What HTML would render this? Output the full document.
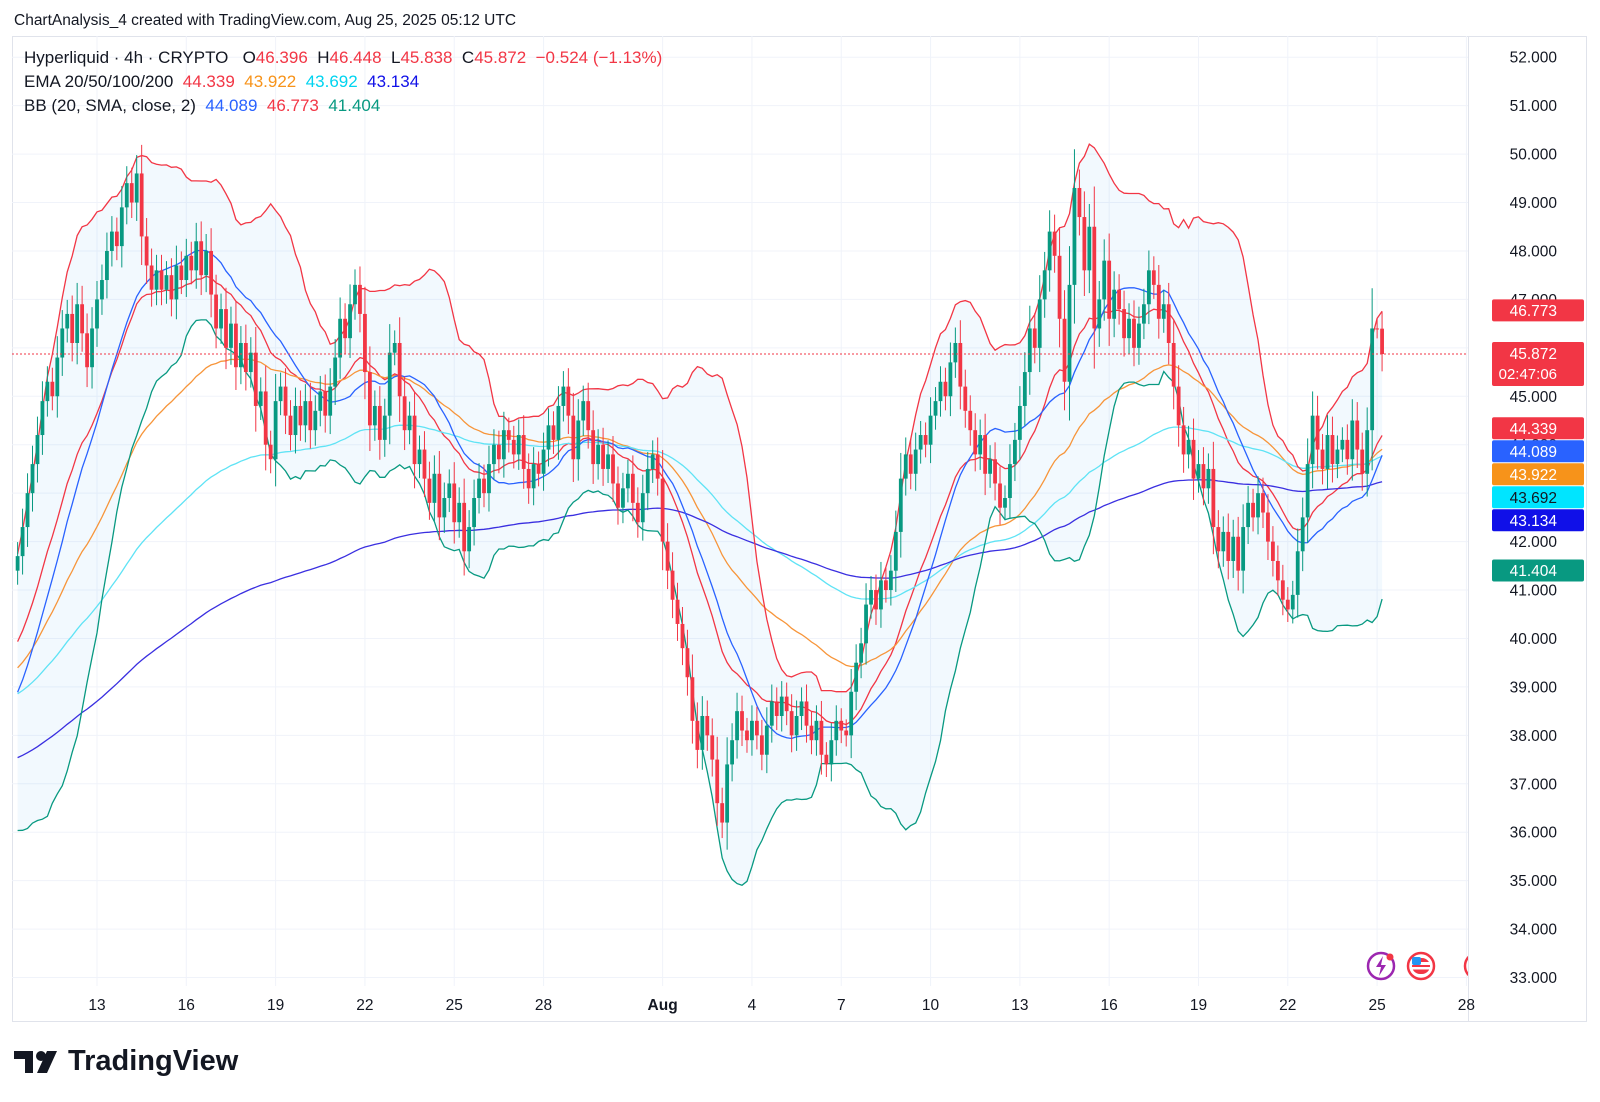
<!DOCTYPE html>
<html><head><meta charset="utf-8">
<style>
body{margin:0;background:#fff;width:1600px;height:1102px;overflow:hidden;font-family:"Liberation Sans",sans-serif;}
#hdr{position:absolute;left:14px;top:12px;font-size:15.5px;color:#131722;}
#logo{position:absolute;left:14px;top:1045px;font-size:29px;font-weight:bold;color:#131722;display:flex;align-items:center;gap:6px}
svg{position:absolute;left:0;top:0}
</style></head><body>
<div id="hdr">ChartAnalysis_4 created with TradingView.com, Aug 25, 2025 05:12 UTC</div>
<div id="logo"><svg width="48" height="26" style="position:static"><path d="M0 2h19v22h-8V10H0z M23 24l10-22h10L33 24z" fill="#131722"/><circle cx="27" cy="7" r="5" fill="#131722"/></svg><span>TradingView</span></div>
<svg id="c" width="1600" height="1102"></svg>
<script>
const priorCloses=[37.2,37.0,36.8,37.3,37.6,37.9,37.7,38.2,38.6,38.4,38.9,39.3,39.1,39.6,40.1,40.4,40.0,40.8,41.2];
const closes=[41.7,42.3,43.0,43.6,
44.2,44.9,45.3,45.0,45.8,46.4, 46.7,46.1,46.9,46.3,45.6,46.4, 47.0,47.4,48.0,48.4,48.1,48.9,
49.4,49.0,49.6,48.3,47.7,47.2, 47.6,47.2,47.5,47.0,47.7,47.4, 47.9,47.6,48.2,47.5,48.0,47.1,
46.4,46.8,46.0,46.5,45.6,46.1, 45.5,45.9,44.8,45.1,44.0,43.7, 44.9,45.2,44.6,44.2,44.8,44.4,
44.9,44.3,44.7,45.1,44.6,45.2, 45.8,46.6,46.2,46.9,47.3,46.7, 45.5,44.4,44.8,44.1,44.6,45.9,
46.1,45.0,44.3,44.6,43.6,43.9, 43.3,42.8,43.4,42.5,42.9,43.2, 42.4,42.8,41.8,42.3,42.9,43.3,
43.0,43.6,44.0,43.7,44.3,44.1, 43.8,44.2,43.5,43.1,43.6,43.4, 43.9,44.4,44.1,44.8,45.2,44.6,
43.7,44.5,44.9,44.3,43.6,44.0, 43.5,43.8,43.2,42.7,43.1,43.4, 42.8,42.4,43.0,43.5,43.8,43.3,
42.0,41.4,40.8,40.3,39.8,39.2, 38.3,37.7,38.4,38.0,37.5,36.6, 36.2,37.4,37.9,38.5,38.1,37.9,
38.3,38.0,37.6,38.2,38.7,38.4, 38.8,38.5,38.0,38.4,38.7,38.2, 37.9,38.3,37.6,37.4,37.9,38.3,
38.1,38.0,38.9,39.5,39.9,40.7, 41.0,40.6,41.2,41.0,41.4,42.2, 43.3,43.8,43.4,43.9,44.2,44.0,
44.6,44.9,45.3,45.0,45.7,46.1, 45.2,44.7,44.3,43.8,44.2,43.4, 43.7,43.2,42.7,42.9,43.6,44.1,
44.8,45.5,46.4,46.0,47.0,47.6, 48.4,47.9,46.6,45.3,47.3,49.3, 48.7,47.6,48.5,46.4,47.0,47.8,
46.6,47.2,46.8,46.2,46.6,46.0, 46.5,46.9,47.6,47.3,46.6,46.9, 46.1,45.2,44.4,43.8,44.1,43.3,
43.6,43.1,43.5,42.3,41.8,42.2, 41.6,42.1,41.4,42.3,42.8,42.5, 43.0,42.6,42.0,41.6,41.2,40.8,
40.6,40.9,41.8,42.5,43.6,44.6, 43.9,43.5,44.2,43.6,43.9,44.1, 43.7,44.5,43.9,43.4,44.3,46.4,
46.396,45.872];
const emaSeeds=[39.75,39.3,38.8,37.5];
const emaPeriods=[20,50,100,200];
const emaColors=["#f23645","#f7953a","#5fe3f5","#3a2fe0"];
const priceTicks=[52,51,50,49,48,47,46,45,44,43,42,41,40,39,38,37,36,35,34,33];
const dateLabels=["13","16","19","22","25","28","Aug","4","7","10","13","16","19","22","25","28"];
const dateDays=[13,16,19,22,25,28,32,35,38,41,44,47,50,53,56,59];
const axisLabels=[[44.339,"#f23645","#fff"],[44.089,"#2962ff","#fff"],[43.922,"#f7931a","#fff"],[43.692,"#00e5ff","#131722"],[43.134,"#1010e8","#fff"],[41.404,"#089981","#fff"]];
const upperLabel=46.773;
const lastPrice=45.872;

const L=12,T=36,PR=1468,R=1586,B=1021;
const svg=document.getElementById('c');const NS="http://www.w3.org/2000/svg";
function y(p){return 57.2+(52-p)*48.44;}
function xd(d){return 97+(d-13)*29.77;}
function xi(i){return xd(10+(2+i)/6);}
function el(t,a,parent){const e=document.createElementNS(NS,t);for(const k in a)e.setAttribute(k,a[k]);(parent||svg).appendChild(e);return e;}
const defs=el('defs',{});
const cp=el('clipPath',{id:'plot'},defs);el('rect',{x:L,y:T,width:PR-L,height:B-T-35},cp);
const fr=el('rect',{x:L+0.5,y:T+0.5,width:R-L,height:B-T,fill:'none',stroke:'#e0e3eb'});


el('line',{x1:PR+0.5,y1:T,x2:PR+0.5,y2:B,stroke:'#e0e3eb'});
priceTicks.forEach(p=>{
 const g=el('line',{x1:L,x2:PR,y1:y(p),y2:y(p),stroke:'#f0f3fa'});
 
 
 const t=el('text',{x:1557,y:y(p)+5.5,'text-anchor':'end','font-size':15.5,fill:'#131722'});t.textContent=p.toFixed(3);
 
 
});
dateDays.forEach((d,k)=>{
 const g=el('line',{x1:xd(d),x2:xd(d),y1:T,y2:B-35,stroke:'#f0f3fa'});
 
 
 const t=el('text',{x:xd(d),y:1010,'text-anchor':'middle','font-size':15.5,fill:'#131722','font-weight':dateLabels[k]=="Aug"?"bold":"normal"});t.textContent=dateLabels[k];
 
 
});
const plot=el('g',{'clip-path':'url(#plot)'});
const all=priorCloses.concat(closes);const P=priorCloses.length;
const mid=[],up=[],lo=[];
for(let i=0;i<closes.length;i++){const j=i+P;const w=all.slice(Math.max(0,j-19),j+1);const m=w.reduce((a,b)=>a+b)/w.length;const sd=Math.sqrt(w.reduce((a,b)=>a+(b-m)*(b-m),0)/w.length);mid.push(m);up.push(m+2*sd);lo.push(m-2*sd);}
let fill="";up.forEach((v,i)=>fill+=(i?"L":"M")+xi(i)+","+y(v));for(let i=lo.length-1;i>=0;i--)fill+="L"+xi(i)+","+y(lo[i]);
const bf=el('path',{d:fill+"Z",fill:'rgba(33,150,243,0.06)'},plot);


function line(arr,col,name){let d="";arr.forEach((v,i)=>d+=(i?"L":"M")+xi(i).toFixed(1)+","+y(v).toFixed(1));const p=el('path',{d:d,fill:'none',stroke:col,'stroke-width':1.3},plot);}
emaPeriods.forEach((n,k)=>{const a=2/(n+1);let e=emaSeeds[k];const arr=[];closes.forEach(c=>{e=e+a*(c-e);arr.push(e);});line(arr,emaColors[k],'ema-'+n+'-line');});
line(up,"#f23645",'bb-upper-line');line(mid,"#2962ff",'bb-basis-line');line(lo,"#089981",'bb-lower-line');
closes.forEach((c,i)=>{const o=i?closes[i-1]:c-0.3;const w=0.2+0.3*Math.abs(c-o);const h=Math.max(o,c)+w,l=Math.min(o,c)-w;const col=c>=o?"#089981":"#f23645";const x=xi(i);
 el('line',{x1:x,x2:x,y1:y(h),y2:y(l),stroke:col,'stroke-width':1},plot);
 const r=el('rect',{x:x-1.9,width:3.8,y:y(Math.max(o,c)),height:Math.max(1,Math.abs(y(o)-y(c))),fill:col},plot);
 
 
});
el('line',{x1:L,x2:PR,y1:y(lastPrice),y2:y(lastPrice),stroke:'#f23645','stroke-dasharray':'2 2'},plot);
[[1381,"#9c27b0"],[1421,"#f23645"],[1478,"#f23645"]].forEach((a,k)=>{const g=el('g',{},plot);
 
 
 el('circle',{cx:a[0],cy:966,r:13,fill:'#fff',stroke:a[1],'stroke-width':2.5},g);
 if(k==0){el('path',{d:`M${a[0]+2} ${956}l-7 11h5l-2 9 7-11h-5z`,fill:'#9c27b0'},g);el('circle',{cx:a[0]+9,cy:957,r:3.5,fill:'#f23645'},g);}
 else{el('rect',{x:a[0]-9,y:958,width:18,height:16,rx:8,fill:'#f23645'},g);el('rect',{x:a[0]-9,y:962,width:18,height:3,fill:'#fff'},g);el('rect',{x:a[0]-9,y:967,width:18,height:2.5,fill:'#fff'},g);el('rect',{x:a[0]-9,y:957,width:9,height:8,rx:2,fill:'#2196f3'},g);}
});
function badge(p,yy,bg,fg,name){const r=el('rect',{x:1492,y:yy-11,width:92,height:22,rx:2,fill:bg});
 
 
 const t=el('text',{x:1557,y:yy+5.5,'text-anchor':'end','font-size':15.5,fill:fg});t.textContent=p.toFixed(3);}
badge(upperLabel,y(upperLabel),"#f23645","#fff",'bb-upper-badge');
{const yy=y(lastPrice)+10;const r=el('rect',{x:1492,y:yy-22,width:92,height:44,rx:2,fill:'#f23645'});
 
 
 const t=el('text',{x:1557,y:yy-5,'text-anchor':'end','font-size':15.5,fill:'#fff'});t.textContent=lastPrice.toFixed(3);
 const t2=el('text',{x:1557,y:yy+15,'text-anchor':'end','font-size':15,fill:'#fff'});t2.textContent="02:47:06";}
let prev=-1e9;
axisLabels.forEach(a=>{let yy=Math.max(y(a[0]),prev+23);prev=yy;badge(a[0],yy,a[1],a[2],'axis-price-badge');});
const leg=[[["Hyperliquid · 4h · CRYPTO   ","#131722"],["O","#131722"],["46.396  ","#f23645"],["H","#131722"],["46.448  ","#f23645"],["L","#131722"],["45.838  ","#f23645"],["C","#131722"],["45.872  −0.524 (−1.13%)","#f23645"]],
[["EMA 20/50/100/200  ","#131722"],["44.339  ","#f23645"],["43.922  ","#f7931a"],["43.692  ","#00d4f0"],["43.134","#1010e8"]],
[["BB (20, SMA, close, 2)  ","#131722"],["44.089  ","#2962ff"],["46.773  ","#f23645"],["41.404","#089981"]]];
leg.forEach((row,k)=>{const t=el('text',{x:24,y:63+k*24,'font-size':17});t.setAttribute('style','white-space:pre');
 
 
 row.forEach(s=>{const sp=el('tspan',{fill:s[1]},t);sp.textContent=s[0];});});
</script>
</body></html>
